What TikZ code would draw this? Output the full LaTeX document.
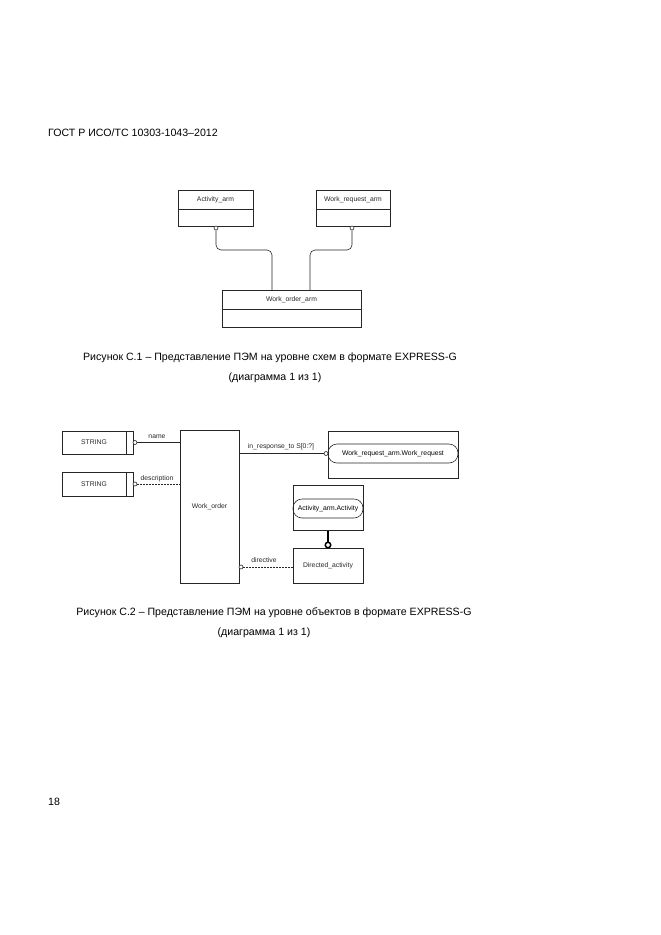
\documentclass[tikz,border=0pt]{standalone}
\usepackage{fontspec}
\setmainfont{Liberation Sans}
\begin{document}
\begin{tikzpicture}[x=1pt,y=-1pt,
  line/.style={draw=black!85, line width=0.6pt},
  box/.style={line, rectangle, inner sep=0pt, outer sep=0pt},
  pill/.style={line, rectangle, rounded corners=9pt, inner sep=0pt, outer sep=0pt, font=\fontsize{6.8}{7}\selectfont},
  lbl/.style={font=\fontsize{6.8}{7}\selectfont, inner sep=1pt, text=black!85},
  captxt/.style={font=\fontsize{10.6}{12}\selectfont, inner sep=0pt},
  circ/.style={circle, draw=black!85, line width=0.6pt, fill=white, inner sep=0pt, minimum size=4pt},
  thickcirc/.style={circle, draw=black, line width=1.5pt, fill=white, inner sep=0pt, minimum size=5.5pt},
  conn/.style={line},
  opt/.style={line, dash pattern=on 2pt off 1pt}
]
\useasboundingbox (0,0) rectangle (661,935);

% header
\node[captxt, anchor=west] (hdr) at (48,133) {ГОСТ Р ИСО/ТС 10303-1043–2012};

% ---------- Diagram 1 ----------
\node[box, minimum width=75pt, minimum height=36pt] (act) at (215.5,208) {};
\node[lbl] (actT) at (215.5,199.5) {Activity\_arm};
\draw[line] (act.west |- 0,209) -- (act.east |- 0,209);

\node[box, minimum width=74pt, minimum height=36pt] (wr) at (353,208) {};
\node[lbl] (wrT) at (353,199.5) {Work\_request\_arm};
\draw[line] (wr.west |- 0,209) -- (wr.east |- 0,209);

\node[box, minimum width=139pt, minimum height=37pt] (wo) at (291.5,308.5) {};
\node[lbl] (woT) at (291.5,299.5) {Work\_order\_arm};
\draw[line] (wo.west |- 0,309) -- (wo.east |- 0,309);

\node[circ] (c1) at (216,228) {};
\node[circ] (c2) at (352,228) {};
\coordinate (w1) at (272,290);
\coordinate (w2) at (310,290);
\draw[conn, rounded corners=5pt] (c1.south) -- (c1.south |- 0,250) -| (w1);
\draw[conn, rounded corners=5pt] (c2.south) -- (c2.south |- 0,250) -| (w2);

\node[captxt] (cap1a) at (270,358) {Рисунок С.1 – Представление ПЭМ на уровне схем в формате EXPRESS-G};
\node[captxt] (cap1b) at (275,378) {(диаграмма 1 из 1)};

% ---------- Diagram 2 ----------
% STRING boxes
\node[box, minimum width=71pt, minimum height=23pt] (s1) at (97.5,442.5) {};
\node[lbl] (s1T) at (94,442.5) {STRING};
\draw[line] (126,0 |- s1.north) -- (126,0 |- s1.south);

\node[box, minimum width=71pt, minimum height=24pt] (s2) at (97.5,484) {};
\node[lbl] (s2T) at (94,484) {STRING};
\draw[line] (126,0 |- s2.north) -- (126,0 |- s2.south);

% Work_order
\node[box, minimum width=59pt, minimum height=153pt] (wo2) at (209.5,506.5) {};
\node[lbl] (wo2T) at (209.5,507) {Work\_order};

% attribute circles
\node[circ] (n1) at (135,442.5) {};
\node[circ] (n2) at (135,484) {};
\draw[conn] (n1.east) -- (wo2.west |- n1.east);
\draw[opt] (n2.east) -- (wo2.west |- n2.east);
\node[lbl] (nameL) at (157,437) {name};
\node[lbl] (descL) at (157,478.5) {description};

% Work_request_arm.Work_request
\node[box, minimum width=130pt, minimum height=47pt] (wrb) at (393,454.5) {};
\node[pill, minimum width=130pt, minimum height=19pt] (wrp) at (393,453.5) {Work\_request\_arm.Work\_request};
\node[circ] (n3) at (326,453.5) {};
\draw[conn] (wo2.east |- n3.west) -- (n3.west);
\node[lbl] (irL) at (281,447) {in\_response\_to S[0:?]};

% Activity_arm.Activity
\node[box, minimum width=70pt, minimum height=45pt] (actb) at (328,508) {};
\node[pill, minimum width=70pt, minimum height=19pt] (actp) at (328,508.5) {Activity\_arm.Activity};

% Directed_activity
\node[box, minimum width=70pt, minimum height=35pt] (da) at (328,565.5) {};
\node[lbl] (daT) at (328,566) {Directed\_activity};
\node[thickcirc] (tc) at (328,545) {};
\draw[line width=1.5pt] (actb.south) -- (tc.north);

% directive
\node[circ] (n4) at (241,567) {};
\draw[opt] (n4.east) -- (da.west |- n4.east);
\node[lbl] (dirL) at (264,560.5) {directive};

\node[captxt] (cap2a) at (274,613) {Рисунок С.2 – Представление ПЭМ на уровне объектов в формате EXPRESS-G};
\node[captxt] (cap2b) at (264,633) {(диаграмма 1 из 1)};

% page number
\node[captxt, anchor=west] (pg) at (48,802) {18};
\end{tikzpicture}
\end{document}
